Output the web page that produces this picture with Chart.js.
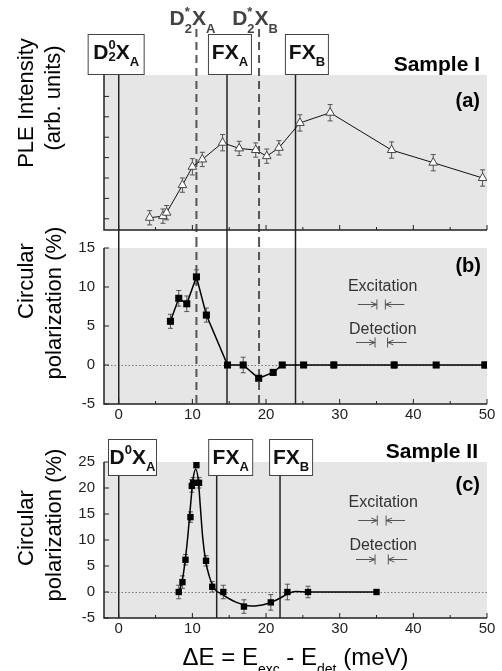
<!DOCTYPE html>
<html>
<head>
<meta charset="utf-8">
<script src="https://cdn.jsdelivr.net/npm/chart.js@4.4.0/dist/chart.umd.min.js"></script>
<style>
  body { margin: 0; background: #fff; }
  #wrap { position: relative; width: 502px; height: 671px; }
  #wrap canvas { position: absolute; left: 0; }
</style>
</head>
<body>
<div id="wrap">
  <canvas id="chartA" width="502" height="239" style="top:0"></canvas>
  <canvas id="chartB" width="502" height="215" style="top:215px"></canvas>
  <canvas id="chartC" width="502" height="241" style="top:430px"></canvas>
</div>
<script>
  const xTicks = [0, 10, 20, 30, 40, 50];
  const xMinorTicks = [5, 15, 25, 35, 45];
  const pleTicks = [1, 2, 3, 4, 5, 6, 7];

  // Sample I - PLE intensity (a)
  const pleEnergy = [4.2, 6.0, 6.5, 8.65, 10.0, 11.35, 14.1, 16.35, 18.6, 20.1, 21.75, 24.6, 28.7, 37.05, 42.7, 49.4];
  const pleIntensity = [1.05, 1.13, 1.3, 2.65, 3.55, 3.91, 4.73, 4.45, 4.37, 4.07, 4.48, 5.7, 6.2, 4.37, 3.75, 3.0];
  const pleError = [0.35, 0.35, 0.35, 0.35, 0.4, 0.35, 0.4, 0.35, 0.35, 0.35, 0.35, 0.4, 0.4, 0.4, 0.4, 0.4];

  // Sample I - circular polarization (b)
  const polEnergyI = [7.02, 8.15, 9.24, 10.55, 11.9, 14.77, 16.9, 19.0, 20.97, 22.2, 25.1, 29.2, 37.4, 43.1, 49.7];
  const polValueI = [5.6, 8.55, 7.85, 11.3, 6.4, 0, 0, -1.7, -0.95, 0, 0, 0, 0, 0, 0];
  const polErrorI = [0.9, 1.0, 1.0, 0.9, 0.9, 0.2, 1.0, 0.3, 0.3, 0.2, 0.3, 0.4, 0.4, 0.3, 0.4];

  // Sample II - circular polarization (c)
  const polEnergyII = [8.15, 8.65, 9.06, 9.74, 9.92, 10.1, 10.55, 10.9, 11.85, 12.7, 14.2, 17.0, 20.65, 22.9, 25.7, 35.0];
  const polValueII = [0, 1.9, 6.2, 14.4, 20.4, 21.0, 24.4, 21.0, 6.0, 1.0, 0, -2.8, -2.0, 0, 0, 0];
  const polErrorII = [1.3, 1.2, 1.0, 1.0, 1.2, 1.0, 0.5, 1.0, 1.0, 1.0, 1.3, 1.3, 1.5, 1.5, 1.1, 0.3];
  const fitEnergyII = [8.2, 8.6, 9.0, 9.4, 9.8, 10.1, 10.45, 10.8, 11.1, 11.4, 11.8, 12.3, 13.0, 14.0, 15.0, 16.0, 17.0, 18.0, 19.0, 20.0, 21.0, 22.0, 23.0, 24.0, 25.7, 35.0];
  const fitValueII = [0.2, 2.0, 5.8, 11.0, 17.5, 21.8, 23.6, 21.5, 16.0, 10.5, 6.0, 3.0, 0.6, -0.4, -1.3, -2.0, -2.5, -2.7, -2.6, -2.3, -1.8, -1.1, -0.3, 0.1, 0.0, 0.0];

  // transition energies (meV)
  const linesSolidI = [0, 14.7, 24.0];
  const linesDashedI = [10.55, 19.05];
  const linesSolidII = [0, 13.3, 21.9];

  const FONT = "'Liberation Sans', Arial, sans-serif";
  Chart.defaults.font.family = FONT;

  const D0X2 = [{t: 'D'}, {t: '0', s: 1, dy: -10, stack: 1}, {t: '2', s: 1, dy: 2}, {t: 'X'}, {t: 'A', s: 1, dy: 7}];
  const D0X = [{t: 'D'}, {t: '0', s: 1, dy: -10}, {t: 'X'}, {t: 'A', s: 1, dy: 7}];
  const FXA = [{t: 'FX'}, {t: 'A', s: 1, dy: 7}];
  const FXB = [{t: 'FX'}, {t: 'B', s: 1, dy: 7}];
  const DSA = [{t: 'D'}, {t: '*', s: 1, dy: -9, stack: 1}, {t: '2', s: 1, dy: 8}, {t: 'X'}, {t: 'A', s: 1, dy: 8}];
  const DSB = [{t: 'D'}, {t: '*', s: 1, dy: -9, stack: 1}, {t: '2', s: 1, dy: 8}, {t: 'X'}, {t: 'B', s: 1, dy: 8}];

  function richWidth(ctx, parts) {
    let w = 0;
    parts.forEach(p => {
      ctx.font = 'bold ' + (p.s ? 13 : 21) + 'px ' + FONT;
      if (!p.stack) w += ctx.measureText(p.t).width;
    });
    return w;
  }

  function drawRich(ctx, parts, cx, base, color) {
    let x = cx - richWidth(ctx, parts) / 2;
    ctx.fillStyle = color;
    ctx.textAlign = 'left';
    ctx.textBaseline = 'alphabetic';
    parts.forEach(p => {
      ctx.font = 'bold ' + (p.s ? 13 : 21) + 'px ' + FONT;
      ctx.fillText(p.t, x, base + (p.dy || 0));
      if (!p.stack) x += ctx.measureText(p.t).width;
    });
  }

  function arrowPair(ctx, x1, x2, y) {
    ctx.beginPath();
    ctx.moveTo(x1, y - 5); ctx.lineTo(x1, y + 5);
    ctx.moveTo(x2, y - 5); ctx.lineTo(x2, y + 5);
    ctx.moveTo(x1 - 19, y); ctx.lineTo(x1, y);
    ctx.moveTo(x1 - 6, y - 2.5); ctx.lineTo(x1, y); ctx.lineTo(x1 - 6, y + 2.5);
    ctx.moveTo(x2 + 19, y); ctx.lineTo(x2, y);
    ctx.moveTo(x2 + 6, y - 2.5); ctx.lineTo(x2, y); ctx.lineTo(x2 + 6, y + 2.5);
    ctx.stroke();
  }

  const panelPlugin = {
    id: 'panel',
    beforeDraw(chart, args, o) {
      const {ctx, chartArea: a} = chart;
      const x = chart.scales.x, y = chart.scales.y;
      ctx.save();
      ctx.fillStyle = '#e6e6e6';
      ctx.fillRect(a.left, a.top, a.right - a.left, a.bottom - a.top);
      if (o.zeroLine) {
        const y0 = Math.round(y.getPixelForValue(0)) + 0.5;
        ctx.strokeStyle = '#777';
        ctx.lineWidth = 1;
        ctx.setLineDash([1.5, 2]);
        ctx.beginPath(); ctx.moveTo(a.left, y0); ctx.lineTo(a.right, y0); ctx.stroke();
      }
      (o.lines || []).forEach(l => {
        const bottom = l.toCanvas ? chart.height : a.bottom;
        ctx.strokeStyle = l.dashed ? '#555' : '#222';
        ctx.lineWidth = l.dashed ? 2 : 1.5;
        ctx.setLineDash(l.dashed ? [8, 5] : []);
        l.values.forEach(v => {
          const px = x.getPixelForValue(v);
          ctx.beginPath(); ctx.moveTo(px, l.top); ctx.lineTo(px, bottom); ctx.stroke();
        });
      });
      ctx.restore();
    },
    beforeDatasetsDraw(chart) {
      const {ctx} = chart;
      const y = chart.scales.y;
      chart.data.datasets.forEach((ds, i) => {
        if (!ds.errors) return;
        const meta = chart.getDatasetMeta(i);
        ctx.save();
        ctx.strokeStyle = '#555';
        ctx.lineWidth = 1;
        meta.data.forEach((pt, j) => {
          const v = ds.data[j].y, e = ds.errors[j];
          const t = y.getPixelForValue(v + e), b = y.getPixelForValue(v - e);
          ctx.beginPath();
          ctx.moveTo(pt.x, t); ctx.lineTo(pt.x, b);
          ctx.moveTo(pt.x - 2.5, t); ctx.lineTo(pt.x + 2.5, t);
          ctx.moveTo(pt.x - 2.5, b); ctx.lineTo(pt.x + 2.5, b);
          ctx.stroke();
        });
        ctx.restore();
      });
    },
    afterDraw(chart, args, o) {
      const {ctx, chartArea: a} = chart;
      const x = chart.scales.x, y = chart.scales.y;
      ctx.save();
      // axes with inward ticks
      ctx.strokeStyle = '#222';
      ctx.lineWidth = 1.5;
      ctx.beginPath();
      ctx.moveTo(a.left, a.top); ctx.lineTo(a.left, a.bottom); ctx.lineTo(a.right, a.bottom);
      ctx.stroke();
      ctx.lineWidth = 1;
      ctx.beginPath();
      xTicks.forEach(v => { const p = x.getPixelForValue(v); ctx.moveTo(p, a.bottom); ctx.lineTo(p, a.bottom - 5); });
      xMinorTicks.forEach(v => { const p = x.getPixelForValue(v); ctx.moveTo(p, a.bottom); ctx.lineTo(p, a.bottom - 3); });
      y.ticks.forEach(t => { const p = y.getPixelForValue(t.value); ctx.moveTo(a.left, p); ctx.lineTo(a.left + 5, p); });
      ctx.stroke();

      // label boxes
      (o.boxes || []).forEach(b => {
        const cx = x.getPixelForValue(b.x);
        ctx.fillStyle = '#fff';
        ctx.strokeStyle = '#444';
        ctx.lineWidth = 1;
        ctx.fillRect(cx - b.w / 2, o.boxTop, b.w, o.boxBottom - o.boxTop);
        ctx.strokeRect(cx - b.w / 2 + 0.5, o.boxTop + 0.5, b.w - 1, o.boxBottom - o.boxTop - 1);
        drawRich(ctx, b.parts, cx, o.boxTop + 25, '#111');
      });
      (o.labels || []).forEach(l => drawRich(ctx, l.parts, x.getPixelForValue(l.x) - 4, 25, '#444'));

      // excitation / detection widths
      ctx.strokeStyle = '#555';
      (o.widths || []).forEach(w => {
        const x1 = x.getPixelForValue(w.x1), x2 = x.getPixelForValue(w.x2);
        ctx.fillStyle = '#333';
        ctx.font = '16px ' + FONT;
        ctx.textAlign = 'center';
        ctx.textBaseline = 'alphabetic';
        ctx.fillText(w.label, (x1 + x2) / 2 + 1.5, y.getPixelForValue(w.yText));
        arrowPair(ctx, x1, x2, Math.round(y.getPixelForValue(w.yArrow)) + 0.5);
      });

      (o.texts || []).forEach(t => {
        ctx.fillStyle = '#000';
        ctx.font = t.font;
        ctx.textAlign = 'right';
        ctx.textBaseline = 'alphabetic';
        ctx.fillText(t.t, t.x, t.y);
      });

      (o.yTitle || []).forEach(t => {
        ctx.save();
        ctx.translate(t.x, t.y);
        ctx.rotate(-Math.PI / 2);
        ctx.fillStyle = '#000';
        ctx.font = '22px ' + FONT;
        ctx.textAlign = 'center';
        ctx.textBaseline = 'middle';
        ctx.fillText(t.t, 0, 0);
        ctx.restore();
      });

      if (o.xTitle) {
        const runs = [['\u0394E = E', 24, 0], ['exc', 14, 9], [' - E', 24, 0], ['det', 14, 9], [' (meV)', 24, 0]];
        let total = 0;
        runs.forEach(r => { ctx.font = r[1] + 'px ' + FONT; total += ctx.measureText(r[0]).width; });
        let px = (a.left + a.right) / 2 - total / 2;
        ctx.fillStyle = '#000';
        ctx.textAlign = 'left';
        ctx.textBaseline = 'alphabetic';
        runs.forEach(r => {
          ctx.font = r[1] + 'px ' + FONT;
          ctx.fillText(r[0], px, o.xTitle + r[2]);
          px += ctx.measureText(r[0]).width;
        });
      }
      ctx.restore();
    }
  };

  function makeChart(id, datasets, yMin, yMax, padTop, xHeight, showLabels, yStep, panelOpts) {
    return new Chart(document.getElementById(id), {
      type: 'scatter',
      data: { datasets },
      plugins: [panelPlugin],
      options: {
        responsive: false,
        animation: false,
        layout: { padding: { left: 0, right: 15, top: padTop, bottom: 0 } },
        plugins: { legend: { display: false }, tooltip: { enabled: false }, panel: panelOpts },
        scales: {
          x: {
            type: 'linear', min: -2, max: 50,
            grid: { display: false, drawTicks: false },
            border: { display: false },
            afterBuildTicks: s => { s.ticks = xTicks.map(v => ({ value: v })); },
            afterFit: s => { s.height = xHeight; },
            ticks: { display: showLabels, padding: 2, color: '#222', font: { size: 15 } }
          },
          y: {
            type: 'linear', min: yMin, max: yMax,
            grid: { display: false, drawTicks: false },
            border: { display: false },
            afterBuildTicks: yStep ? undefined : s => { s.ticks = pleTicks.map(v => ({ value: v })); },
            afterFit: s => { s.width = 104; },
            ticks: { display: showLabels, stepSize: yStep || 1, padding: 9, color: '#222', font: { size: 15 } }
          }
        }
      }
    });
  }

  const squares = { pointStyle: 'rect', pointRadius: 5, pointBackgroundColor: '#000', pointBorderColor: '#000', pointBorderWidth: 0 };

  makeChart('chartA', [{
    data: pleEnergy.map((e, i) => ({ x: e, y: pleIntensity[i] })),
    errors: pleError,
    showLine: true, borderColor: '#111', borderWidth: 1,
    pointStyle: 'triangle', pointRadius: 5, pointBackgroundColor: '#fff', pointBorderColor: '#444', pointBorderWidth: 1
  }], 0.45, 8.05, 75, 9, false, 0, {
    lines: [
      { values: linesSolidI, top: 75, toCanvas: true },
      { values: linesDashedI, top: 29, toCanvas: true, dashed: true }
    ],
    boxTop: 34, boxBottom: 75,
    boxes: [
      { x: -0.35, w: 57, parts: D0X2 },
      { x: 15.1, w: 44, parts: FXA },
      { x: 25.55, w: 44, parts: FXB }
    ],
    labels: [{ x: linesDashedI[0], parts: DSA }, { x: linesDashedI[1], parts: DSB }],
    texts: [
      { t: 'Sample I', x: 480, y: 71, font: 'bold 21px ' + FONT },
      { t: '(a)', x: 480, y: 107, font: 'bold 20px ' + FONT }
    ],
    yTitle: [{ t: 'PLE Intensity', x: 27, y: 103 }, { t: '(arb. units)', x: 54, y: 98 }]
  });

  // panel (b) canvas overlaps the bottom of (a) so its axis title fits
  makeChart('chartB', [Object.assign({
    data: polEnergyI.map((e, i) => ({ x: e, y: polValueI[i] })),
    errors: polErrorI,
    showLine: true, borderColor: '#000', borderWidth: 1.5
  }, squares)], -5, 15, 33, 26, true, 5, {
    zeroLine: true,
    lines: [
      { values: linesSolidI, top: 24 },
      { values: linesDashedI, top: 24, dashed: true }
    ],
    widths: [
      { label: 'Excitation', x1: 35.05, x2: 36.2, yText: 9.45, yArrow: 7.87 },
      { label: 'Detection', x1: 34.8, x2: 36.5, yText: 3.94, yArrow: 2.95 }
    ],
    texts: [{ t: '(b)', x: 481, y: 57, font: 'bold 20px ' + FONT }],
    yTitle: [{ t: 'Circular', x: 27, y: 66 }, { t: 'polarization (%)', x: 55, y: 88 }]
  });

  makeChart('chartC', [Object.assign({
    data: polEnergyII.map((e, i) => ({ x: e, y: polValueII[i] })),
    errors: polErrorII,
    showLine: false
  }, squares, { pointRadius: 4.5 }), {
    data: fitEnergyII.map((e, i) => ({ x: e, y: fitValueII[i] })),
    showLine: true, borderColor: '#000', borderWidth: 1.5, pointRadius: 0,
    cubicInterpolationMode: 'monotone'
  }], -5, 25, 32, 53, true, 5, {
    zeroLine: true,
    lines: [{ values: linesSolidII, top: 46 }],
    boxTop: 9, boxBottom: 46,
    boxes: [
      { x: 1.87, w: 49, parts: D0X },
      { x: 15.2, w: 45, parts: FXA },
      { x: 23.4, w: 44, parts: FXB }
    ],
    widths: [
      { label: 'Excitation', x1: 35.1, x2: 36.3, yText: 16.35, yArrow: 13.85 },
      { label: 'Detection', x1: 34.8, x2: 36.6, yText: 8.1, yArrow: 6.35 }
    ],
    texts: [
      { t: 'Sample II', x: 478, y: 28, font: 'bold 21px ' + FONT },
      { t: '(c)', x: 480, y: 61, font: 'bold 20px ' + FONT }
    ],
    yTitle: [{ t: 'Circular', x: 27, y: 98 }, { t: 'polarization (%)', x: 55, y: 95 }],
    xTitle: 235
  });
</script>
</body>
</html>
